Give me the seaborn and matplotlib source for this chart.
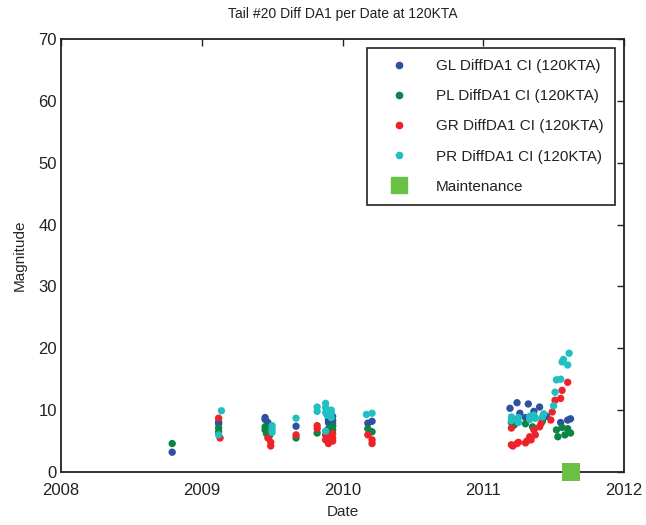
import numpy as np
import pandas as pd
import matplotlib
matplotlib.use("Agg")
import matplotlib.pyplot as plt
import seaborn as sns
from matplotlib.lines import Line2D

# dates as fractional years
gl_dates = [2008.79, 2009.12, 2009.12, 2009.45, 2009.45, 2009.47, 2009.47, 2009.67,
            2009.90, 2009.90, 2009.93, 2009.93, 2009.93, 2010.18, 2010.21,
            2011.19, 2011.24, 2011.26, 2011.32, 2011.36, 2011.40, 2011.43, 2011.45, 2011.30,
            2011.55, 2011.60, 2011.62]
gl_vals = [3.2, 8.1, 7.8, 8.8, 8.5, 8.0, 7.6, 7.4,
           8.5, 8.0, 9.0, 8.3, 7.8, 7.9, 8.2,
           10.3, 11.2, 9.5, 11.0, 9.8, 10.5, 9.2, 9.0, 8.8,
           8.0, 8.4, 8.6]

pl_dates = [2008.79, 2009.12, 2009.12, 2009.45, 2009.45, 2009.46, 2009.48, 2009.48, 2009.67,
            2009.82, 2009.90, 2009.90, 2009.93, 2009.93, 2010.18, 2010.21,
            2011.20, 2011.22, 2011.30, 2011.35, 2011.36, 2011.42,
            2011.52, 2011.53, 2011.56, 2011.58, 2011.62, 2011.60]
pl_vals = [4.6, 7.1, 6.5, 7.3, 6.8, 6.2, 6.0, 5.8, 5.5,
           6.3, 7.0, 6.6, 7.4, 6.8, 7.0, 6.5,
           8.0, 7.6, 7.8, 7.3, 7.0, 8.2,
           6.8, 5.7, 7.2, 6.0, 6.3, 7.0]

gr_dates = [2009.12, 2009.13, 2009.47, 2009.49, 2009.49, 2009.67,
            2009.82, 2009.82, 2009.88, 2009.88, 2009.90, 2009.90, 2009.93, 2009.93, 2009.93,
            2010.18, 2010.21, 2010.21,
            2011.20, 2011.20, 2011.21, 2011.24, 2011.25, 2011.30, 2011.31, 2011.33, 2011.34,
            2011.36, 2011.37, 2011.40, 2011.41, 2011.48, 2011.49, 2011.51, 2011.55, 2011.56,
            2011.60]
gr_vals = [8.7, 5.5, 5.5, 4.8, 4.2, 6.0,
           7.5, 7.0, 6.0, 5.2, 5.8, 4.6, 5.5, 5.0, 6.2,
           6.0, 5.2, 4.6,
           4.4, 7.1, 4.2, 4.6, 4.8, 4.7, 5.0, 5.7, 5.2,
           6.8, 6.0, 7.3, 7.8, 8.4, 9.7, 11.6, 11.9, 13.2,
           14.5]

pr_dates = [2009.14, 2009.12, 2009.50, 2009.50, 2009.50, 2009.67,
            2009.82, 2009.82, 2009.88, 2009.88, 2009.88, 2009.89, 2009.92, 2009.92, 2009.92, 2009.88,
            2010.17, 2010.21,
            2011.20, 2011.20, 2011.21, 2011.25, 2011.25, 2011.33, 2011.33, 2011.36, 2011.37,
            2011.42, 2011.43, 2011.50, 2011.51, 2011.52, 2011.55, 2011.56, 2011.57, 2011.60,
            2011.61]
pr_vals = [9.9, 6.0, 7.5, 7.0, 6.4, 8.7,
           10.5, 9.8, 11.1, 10.4, 9.6, 9.2, 10.0, 9.5, 8.8, 6.6,
           9.3, 9.5,
           8.9, 8.3, 8.6, 8.8, 8.0, 9.0, 8.5, 9.2, 8.7,
           8.9, 9.4, 10.7, 12.9, 14.9, 15.0, 17.8, 18.2, 17.3,
           19.2]

maint_dates = [2011.62]
maint_vals = [0]

series_names = ["GL DiffDA1 CI (120KTA)", "PL DiffDA1 CI (120KTA)",
                "GR DiffDA1 CI (120KTA)", "PR DiffDA1 CI (120KTA)"]
colors = ["#2f4f9f", "#0a8543", "#ee2229", "#1fbfc2"]

frames = []
for name, d, v in zip(series_names, [gl_dates, pl_dates, gr_dates, pr_dates],
                      [gl_vals, pl_vals, gr_vals, pr_vals]):
    frames.append(pd.DataFrame({"Date": d, "Magnitude": v, "Series": name}))
df = pd.concat(frames, ignore_index=True)

sns.set_style("white")
plt.rcParams["font.family"] = ["Liberation Sans", "DejaVu Sans"]
plt.rcParams["text.color"] = "#222222"

fig = plt.figure(figsize=(6.46, 5.25), dpi=100)
ax = fig.add_axes([61 / 646, 53 / 525, 563 / 646, 433 / 525])

sns.scatterplot(data=df, x="Date", y="Magnitude", hue="Series",
                palette=dict(zip(series_names, colors)), s=28, linewidth=0,
                ax=ax, legend=False)
ax.scatter(maint_dates, maint_vals, marker="s", s=150, color="#6abf45",
           linewidth=0, clip_on=False, zorder=5)

ax.set_xlim(2008, 2012)
ax.set_ylim(0, 70)
ax.set_xticks([2008, 2009, 2010, 2011, 2012])
ax.set_yticks(range(0, 71, 10))
ax.tick_params(direction="in", length=5, width=1, color="#222222",
               labelsize=12, labelcolor="#222222", top=True, right=True,
               labeltop=False, labelright=False)
ax.tick_params(axis="x", pad=8)
ax.tick_params(axis="y", pad=3)
for sp in ax.spines.values():
    sp.set_color("#222222")
    sp.set_linewidth(1.3)
    sp.set_visible(True)

ax.set_title("Tail #20 Diff DA1 per Date at 120KTA", fontsize=10, pad=15)
ax.set_xlabel("Date", fontsize=11, labelpad=5)
ax.set_ylabel("Magnitude", fontsize=11, labelpad=8)

handles = [Line2D([], [], marker="o", linestyle="", color=c, markersize=4.5) for c in colors]
handles.append(Line2D([], [], marker="s", linestyle="", color="#6abf45", markersize=11))
leg = ax.legend(handles, series_names + ["Maintenance"], loc="upper right",
                fontsize=11, frameon=True, fancybox=False, framealpha=1,
                borderpad=0.75, labelspacing=1.05, handletextpad=1.0,
                handlelength=2.8, bbox_to_anchor=(0.998, 0.997))
leg.get_frame().set_edgecolor("#222222")
leg.get_frame().set_linewidth(1.2)

fig.savefig("out.png", dpi=100)
